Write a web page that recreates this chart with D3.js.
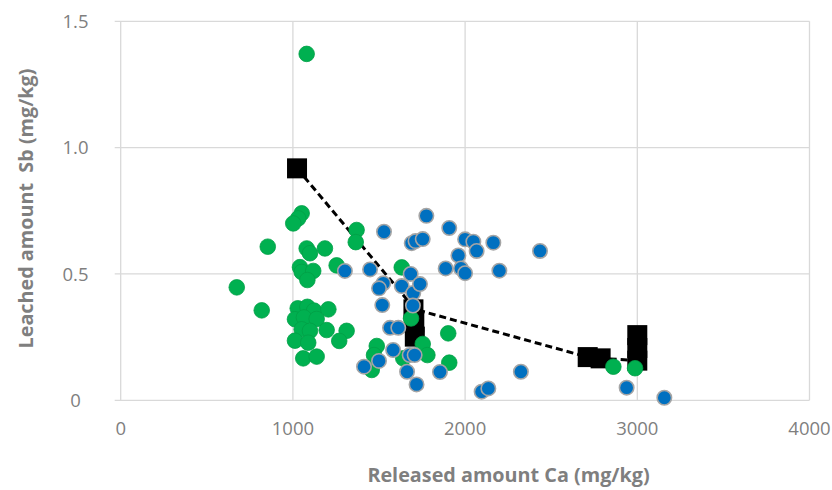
<!DOCTYPE html>
<html>
<head>
<meta charset="utf-8">
<script src="https://cdn.jsdelivr.net/npm/d3@7"></script>
<style>
  body { margin: 0; background: #fff; }
  text { font-family: "Open Sans", "Liberation Sans", sans-serif; fill: #7f7f7f; }
</style>
</head>
<body>
<svg id="chart" width="832" height="490"></svg>
<script>
// tick values
const xTicks = [0, 1000, 2000, 3000, 4000];
const yTicks = [0, 0.5, 1.0, 1.5];

// green series [Ca, Sb]
const greenPoints = [
  [1080, 1.371], [1051, 0.740], [1031, 0.720], [1002, 0.700], [854, 0.608],
  [1080, 0.601], [1099, 0.582], [1186, 0.601], [1370, 0.674], [1365, 0.626],
  [1041, 0.527], [1051, 0.508], [1118, 0.512], [1084, 0.476], [1254, 0.534],
  [674, 0.447], [819, 0.356], [1028, 0.364], [1084, 0.370], [1123, 0.355],
  [1206, 0.360], [1012, 0.321], [1064, 0.328], [1138, 0.322], [1051, 0.281],
  [1099, 0.275], [1196, 0.278], [1312, 0.275], [1012, 0.236], [1089, 0.228],
  [1269, 0.235], [1060, 0.166], [1138, 0.173], [1487, 0.215], [1471, 0.179],
  [1458, 0.120], [1632, 0.526], [1686, 0.324], [1754, 0.223], [1781, 0.179],
  [1902, 0.265], [1908, 0.149], [2861, 0.133], [2987, 0.127], [1641, 0.166]
];

// blue series [Ca, Sb]
const bluePoints = [
  [1302, 0.512], [1448, 0.518], [1525, 0.463], [1500, 0.443], [1519, 0.377],
  [1564, 0.287], [1612, 0.287], [1582, 0.199], [1413, 0.133], [1500, 0.156],
  [1663, 0.113], [1684, 0.500], [1632, 0.452], [1699, 0.425], [1697, 0.375],
  [1678, 0.179], [1707, 0.179], [1718, 0.063], [1690, 0.622], [1712, 0.630],
  [1754, 0.638], [1775, 0.730], [1529, 0.667], [1908, 0.682], [2000, 0.637],
  [2048, 0.628], [2067, 0.591], [2164, 0.624], [2435, 0.591], [1961, 0.573],
  [1887, 0.522], [1976, 0.522], [2000, 0.503], [2199, 0.513], [1738, 0.460],
  [1854, 0.112], [2324, 0.113], [2096, 0.034], [2135, 0.047], [2938, 0.050],
  [3157, 0.010]
];

// black squares and the dashed line through them
const squarePoints = [
  [1024, 0.918], [1700, 0.360], [1705, 0.308], [1708, 0.252],
  [2712, 0.171], [2787, 0.166], [3000, 0.258], [3000, 0.207], [3000, 0.157]
];
const linePoints = [[1024, 0.918], [1710, 0.360], [2712, 0.171], [2787, 0.166], [3000, 0.157]];

const svg = d3.select('#chart');
svg.append('rect').attr('width', 832).attr('height', 490).attr('fill', '#fff');

const x = d3.scaleLinear().domain([0, 4000]).range([120.7, 809.5]);
const y = d3.scaleLinear().domain([0, 1.5]).range([400.3, 21.3]);

// gridlines
const grid = svg.append('g').attr('stroke', '#d9d9d9').attr('stroke-width', 1.3);
xTicks.forEach((t) => {
  grid.append('line')
    .attr('x1', x(t)).attr('x2', x(t))
    .attr('y1', y(0)).attr('y2', y(1.5));
});
yTicks.forEach((t) => {
  grid.append('line')
    .attr('x1', x(0) - 6).attr('x2', x(4000))
    .attr('y1', y(t)).attr('y2', y(t));
});

// tick labels
svg.append('g').selectAll('text').data(xTicks).join('text')
  .attr('x', (d) => x(d)).attr('y', 435)
  .attr('text-anchor', 'middle')
  .attr('font-size', 18.5)
  .text((d) => d);

svg.append('g').selectAll('text').data(yTicks).join('text')
  .attr('x', 75.5).attr('y', (d) => y(d))
  .attr('dy', '0.36em')
  .attr('text-anchor', 'middle')
  .attr('font-size', 18.5)
  .text((d) => (d === 0 ? '0' : d3.format('.1f')(d)));

// axis titles
svg.append('text')
  .attr('x', 508.5).attr('y', 482)
  .attr('text-anchor', 'middle')
  .attr('font-size', 19.8).attr('font-weight', 'bold')
  .text('Released amount Ca (mg/kg)');

svg.append('text')
  .attr('transform', 'translate(33,208.5) rotate(-90)')
  .attr('text-anchor', 'middle')
  .attr('font-size', 19.8).attr('font-weight', 'bold')
  .attr('xml:space', 'preserve')
  .style('white-space', 'pre')
  .text('Leached amount  Sb (mg/kg)');

// dashed line
svg.append('path')
  .datum(linePoints)
  .attr('fill', 'none')
  .attr('stroke', '#000')
  .attr('stroke-width', 3)
  .attr('stroke-dasharray', '7,4')
  .attr('d', d3.line().x((d) => x(d[0])).y((d) => y(d[1])));

// squares
const sq = 20;
svg.append('g').selectAll('rect').data(squarePoints).join('rect')
  .attr('x', (d) => x(d[0]) - sq / 2)
  .attr('y', (d) => y(d[1]) - sq / 2)
  .attr('width', sq).attr('height', sq)
  .attr('fill', '#000');

// green circles
svg.append('g').selectAll('circle').data(greenPoints).join('circle')
  .attr('cx', (d) => x(d[0])).attr('cy', (d) => y(d[1]))
  .attr('r', 7.8)
  .attr('fill', '#00b050')
  .attr('stroke', '#00a046')
  .attr('stroke-width', 0.8);

// blue circles
svg.append('g').selectAll('circle').data(bluePoints).join('circle')
  .attr('cx', (d) => x(d[0])).attr('cy', (d) => y(d[1]))
  .attr('r', 7.2)
  .attr('fill', '#0070c0')
  .attr('stroke', '#a5a5a5')
  .attr('stroke-width', 1.6);
</script>
</body>
</html>
